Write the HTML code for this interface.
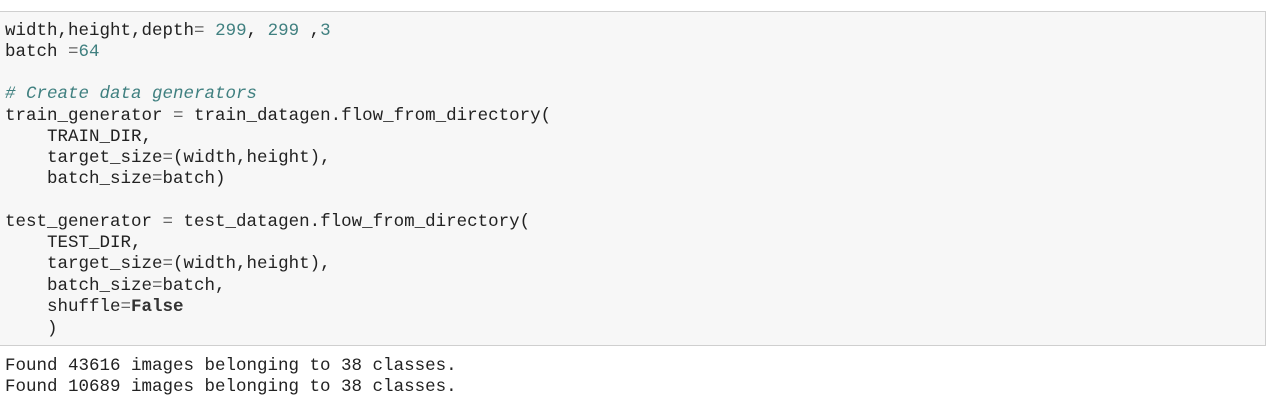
<!DOCTYPE html>
<html><head><style>
body{margin:0;width:1273px;height:406px;background:#fff;overflow:hidden;font-family:"Liberation Mono","Courier New",monospace;font-size:17.5px;color:#222}
.box{position:absolute;left:0;top:11px;width:1265px;height:333px;background:#f7f7f7;border:1px solid #cfcfcf;border-left:none}
.l{position:absolute;left:5px;white-space:pre;line-height:21px}
.n{color:#408080}
.c{color:#408080;font-style:italic}
.o{color:#666}
.k{font-weight:bold}
</style></head><body>
<div class="box"></div>
<div class="l" style="top:21px">width,height,depth<span class="o">=</span> <span class="n">299</span>, <span class="n">299</span> ,<span class="n">3</span></div>
<div class="l" style="top:42px">batch <span class="o">=</span><span class="n">64</span></div>
<div class="l" style="top:84px"><span class="c"># Create data generators</span></div>
<div class="l" style="top:106px">train_generator <span class="o">=</span> train_datagen.flow_from_directory(</div>
<div class="l" style="top:127px">    TRAIN_DIR,</div>
<div class="l" style="top:148px">    target_size<span class="o">=</span>(width,height),</div>
<div class="l" style="top:169px">    batch_size<span class="o">=</span>batch)</div>
<div class="l" style="top:212px">test_generator <span class="o">=</span> test_datagen.flow_from_directory(</div>
<div class="l" style="top:233px">    TEST_DIR,</div>
<div class="l" style="top:254px">    target_size<span class="o">=</span>(width,height),</div>
<div class="l" style="top:276px">    batch_size<span class="o">=</span>batch,</div>
<div class="l" style="top:297px">    shuffle<span class="o">=</span><span class="k" style="color:#333">False</span></div>
<div class="l" style="top:319px">    )</div>
<div class="l" style="top:356px">Found 43616 images belonging to 38 classes.</div>
<div class="l" style="top:377px">Found 10689 images belonging to 38 classes.</div>
</body></html>
